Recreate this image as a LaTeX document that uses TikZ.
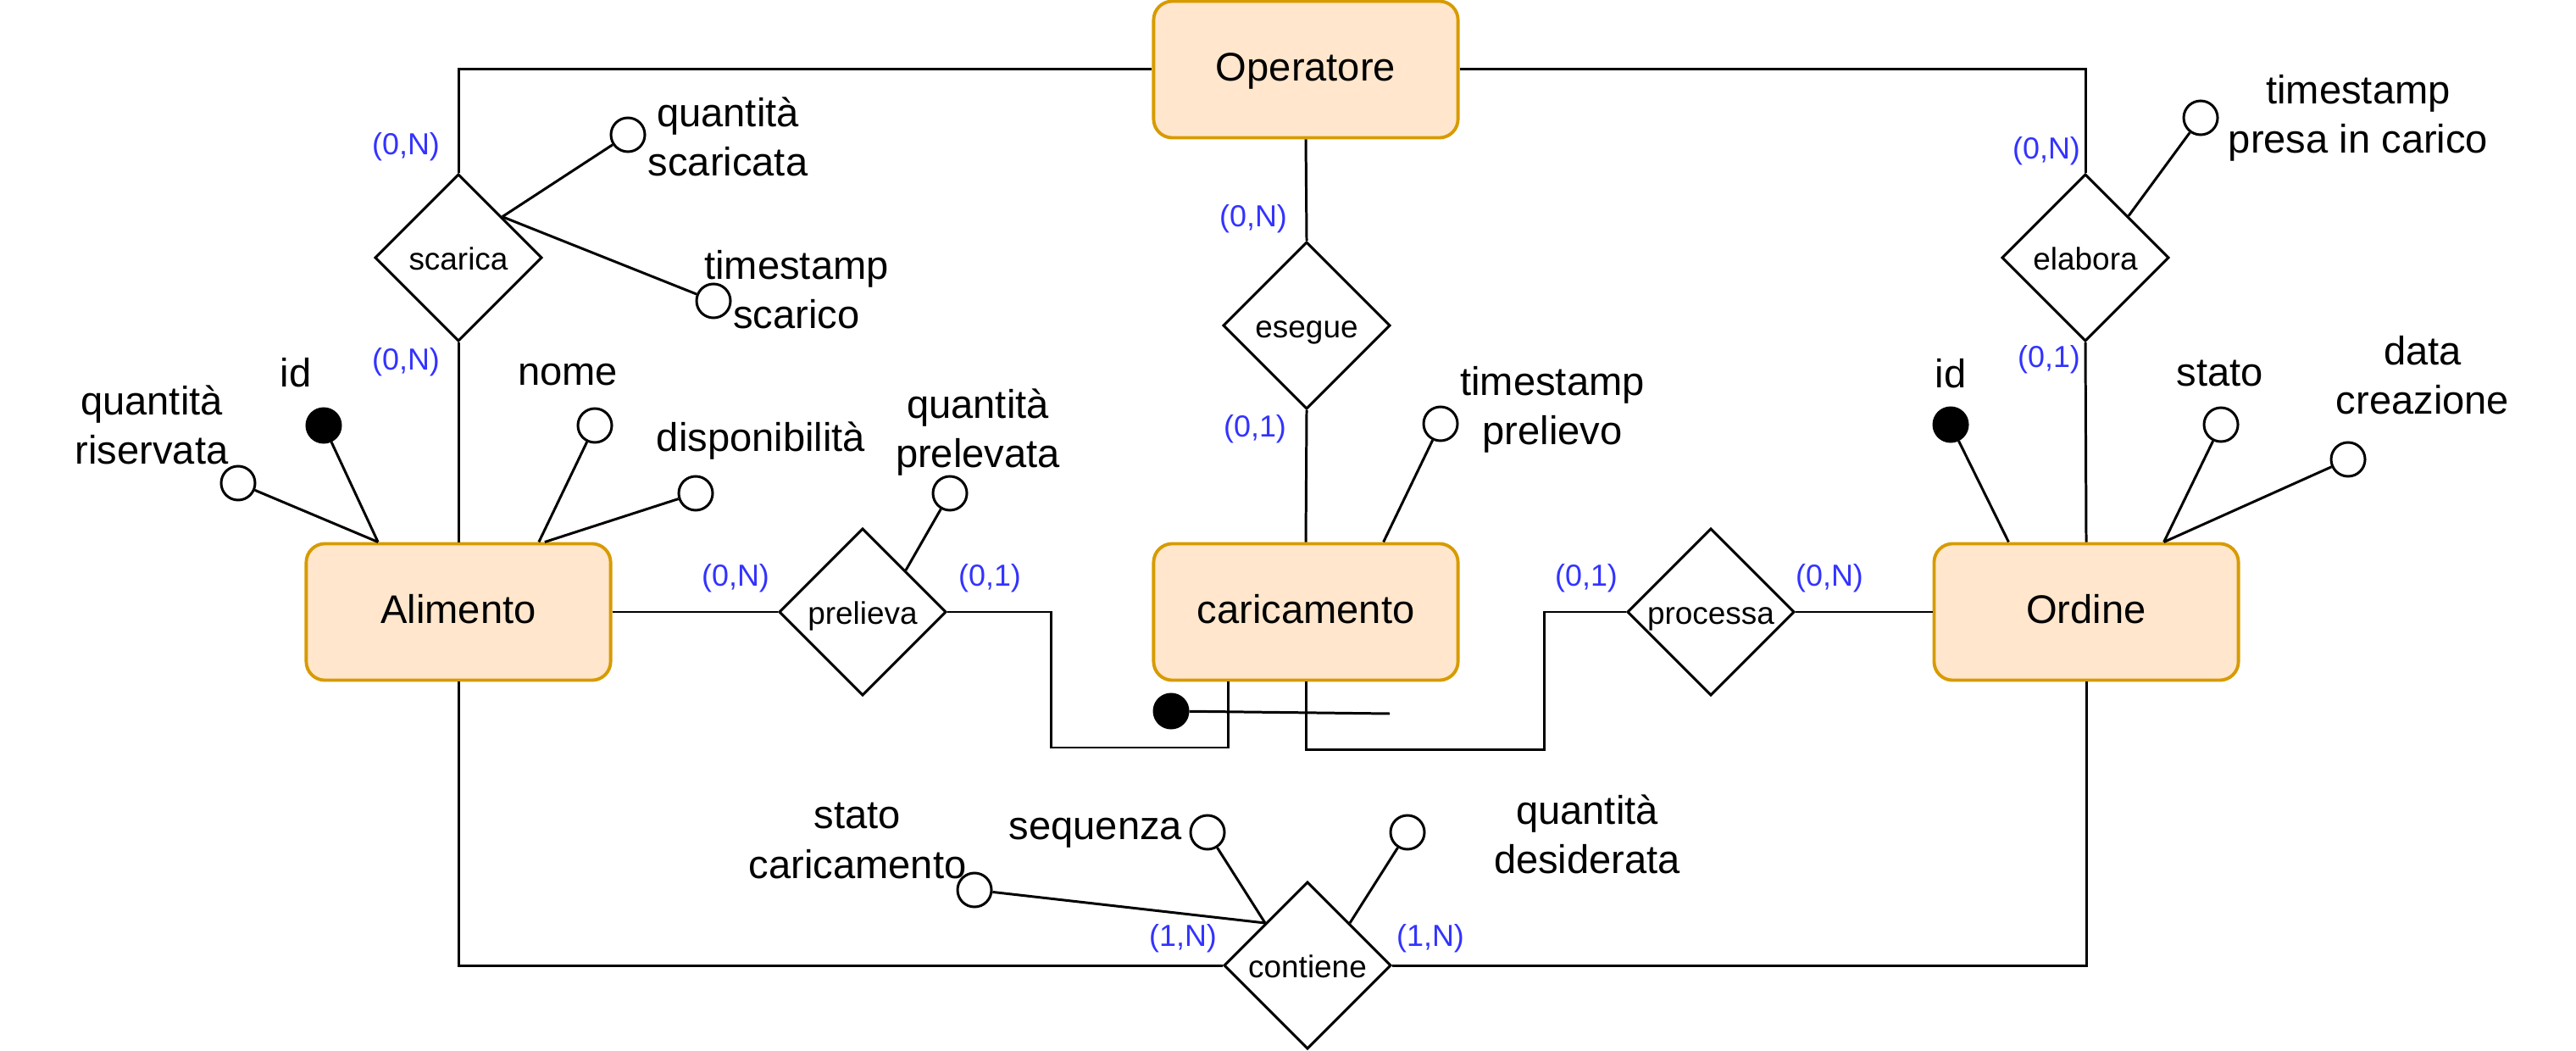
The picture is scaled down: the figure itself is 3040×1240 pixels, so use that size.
\documentclass[tikz,border=0pt]{standalone}
\usepackage{fontspec}
\setmainfont{Liberation Sans}
\usetikzlibrary{shapes.geometric}
\usetikzlibrary{positioning}
\definecolor{entfill}{HTML}{FFE6CC}
\definecolor{entline}{HTML}{D79B00}
\definecolor{cardblue}{HTML}{3333FF}
\tikzset{
entity/.style={draw=entline, fill=entfill, line width=1.1pt, rounded corners=0.22cm,
  minimum width=3.59cm, minimum height=1.61cm, text height=11pt, text depth=3.4pt,
  font=\fontsize{13.4}{16.5}\selectfont},
rel/.style={draw, diamond, aspect=1, inner sep=0pt, minimum width=1.97cm,
  minimum height=1.97cm, fill=white, text height=9.8pt, text depth=1.8pt,
  font=\fontsize{10.5}{12}\selectfont},
attr/.style={draw, circle, fill=white, inner sep=0pt, minimum size=0.4cm},
keyattr/.style={attr, fill=black},
txt/.style={align=center, font=\fontsize{13.4}{16.5}\selectfont},
crd/.style={text=cardblue, font=\fontsize{10.2}{12}\selectfont}
}
\begin{document}
\begin{tikzpicture}[x=0.01cm, y=-0.01cm, line width=0.85pt]
\useasboundingbox (0,0) rectangle (3040,1240);
\node[entity] (ope) at (1541,82) {Operatore};
\node[entity] (ali) at (541,722) {Alimento};
\node[entity] (car) at (1541,722) {caricamento};
\node[entity] (ord) at (2462,722) {Ordine};
\node[rel] (sca) at (541,304) {scarica};
\node[rel] (ese) at (1542,384) {esegue};
\node[rel] (ela) at (2461,304) {elabora};
\node[rel] (pre) at (1018,722) {prelieva};
\node[rel] (pro) at (2019,722) {processa};
\node[rel] (con) at (1543,1139) {contiene};
\node[keyattr] (aliId) at (382,502) {};
\node[attr] (aliQr) at (281,570) {};
\node[attr] (aliNome) at (702,502) {};
\node[attr] (aliDisp) at (821,582) {};
\node[attr] (scaQs) at (741,159) {};
\node[attr] (scaTs) at (842,355) {};
\node[attr] (preQp) at (1121,582) {};
\node[attr] (carTp) at (1700,500) {};
\node[keyattr] (carId) at (1382,839) {};
\node[attr] (elaTp) at (2597,139) {};
\node[keyattr] (ordId) at (2302,501) {};
\node[attr] (ordStato) at (2621,501) {};
\node[attr] (ordData) at (2771,542) {};
\node[attr] (conSc) at (1150,1050) {};
\node[attr] (conSeq) at (1425,982) {};
\node[attr] (conQd) at (1661,982) {};
\coordinate (carIdEnd) at (1640,842);
\node[txt] (tAliId) at (349,440) {id};
\node[txt] (tAliQr) at (179,501) {quantità\\riservata};
\node[txt] (tAliNome) at (670,442) {nome};
\node[txt] (tAliDisp) at (898,520) {disponibilità};
\node[txt] (tScaQs) at (859,161) {quantità\\scaricata};
\node[txt] (tScaTs) at (940,342) {timestamp\\scarico};
\node[txt] (tPreQp) at (1154,510) {quantità\\prelevata};
\node[txt] (tCarTp) at (1832,483) {timestamp\\prelievo};
\node[txt] (tElaTp) at (2783,139) {timestamp\\presa in carico};
\node[txt] (tOrdId) at (2302,441) {id};
\node[txt] (tOrdStato) at (2620,441) {stato};
\node[txt] (tOrdData) at (2859,443) {data\\creazione};
\node[txt] (tConSc) at (1012,992) {stato\\caricamento};
\node[txt] (tConSeq) at (1293,983) {sequenza};
\node[txt] (tConQd) at (1873,984) {quantità\\desiderata};
\node[crd] (c1) at (479,173) {(0,N)};
\node[crd] (c2) at (479,427) {(0,N)};
\node[crd] (c3) at (1479,258) {(0,N)};
\node[crd] (c4) at (1481,506) {(0,1)};
\node[crd] (c5) at (2415,178) {(0,N)};
\node[crd] (c6) at (2418,424) {(0,1)};
\node[crd] (c7) at (868,682) {(0,N)};
\node[crd] (c8) at (1168,682) {(0,1)};
\node[crd] (c9) at (1872,682) {(0,1)};
\node[crd] (c10) at (2159,682) {(0,N)};
\node[crd] (c11) at (1396,1107) {(1,N)};
\node[crd] (c12) at (1688,1107) {(1,N)};
\draw (ope.west) -| (sca.north);
\draw (sca.south) -- (ali.north);
\draw (ope.east) -| (ela.north);
\draw (ela.south) -- (ord.north);
\draw (ope.south) -- (ese.north);
\draw (ese.south) -- (car.north);
\draw (ali.east) -- (pre.west);
\draw (pre.east) -| ++(122,160) -| (car.222);
\draw (car.south) |- ++(281,80) |- (pro.west);
\draw (pro.east) -- (ord.west);
\draw (ali.south) |- (con.west);
\draw (ord.south) |- (con.east);
\draw (carId) -- (carIdEnd);
\draw (aliId) -- (ali.139);
\draw (aliQr) -- (ali.139);
\draw (aliNome) -- (ali.41);
\draw (aliDisp) -- (ali.39);
\draw (scaQs) -- (sca.43);
\draw (scaTs) -- (sca.43);
\draw (preQp) -- (pre.44);
\draw (carTp) -- (car.42);
\draw (elaTp) -- (ela.44);
\draw (ordId) -- (ord.138);
\draw (ordStato) -- (ord.42);
\draw (ordData) -- (ord.42);
\draw (conSc) -- (con.135);
\draw (conSeq) -- (con.135);
\draw (conQd) -- (con.45);
\end{tikzpicture}
\end{document}
